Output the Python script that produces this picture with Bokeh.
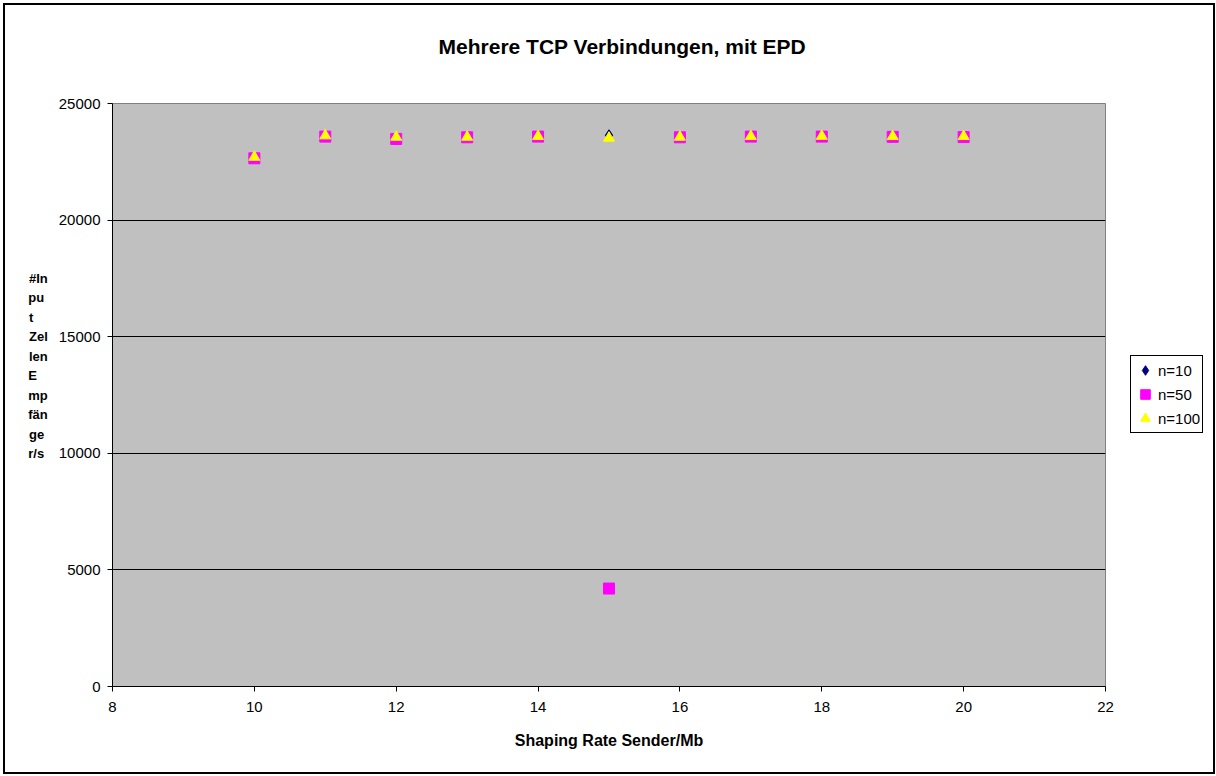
from bokeh.plotting import figure
from bokeh.models import Legend, LegendItem, Range1d, FixedTicker, Label
from bokeh.layouts import row, column
from bokeh.embed import file_html
from bokeh.resources import INLINE

x_rate = [10, 11, 12, 13, 14, 15, 16, 17, 18, 19, 20]
n10 = [22700, 23600, 23560, 23580, 23600, 23640, 23580, 23600, 23600, 23600, 23600]
n50 = [22650, 23580, 23480, 23550, 23580, 4200, 23550, 23580, 23580, 23570, 23560]
n100 = [22700, 23620, 23560, 23560, 23590, 23520, 23560, 23590, 23600, 23590, 23590]
series_labels = ["n=10", "n=50", "n=100"]
x_ticks = [8, 10, 12, 14, 16, 18, 20, 22]
y_ticks = [0, 5000, 10000, 15000, 20000, 25000]
title_text = "Mehrere TCP Verbindungen, mit EPD"

FONT = "Liberation Sans"

# ---- title strip ----
t = figure(width=1116, height=60, output_backend="svg", toolbar_location=None,
           x_range=Range1d(0, 1116), y_range=Range1d(0, 60), min_border=0)
t.axis.visible = False
t.grid.grid_line_color = None
t.outline_line_color = None
t.background_fill_color = "white"
t.border_fill_color = "white"
t.add_layout(Label(x=573, y=19, text=title_text, text_align="center", text_baseline="middle",
                   text_font=FONT, text_font_size="21px", text_font_style="bold",
                   text_color="black"))

# ---- main plot ----
p = figure(width=1116, height=707, output_backend="svg", toolbar_location=None,
           x_range=Range1d(8, 22), y_range=Range1d(0, 25000),
           min_border_left=107, min_border_right=16, min_border_top=38, min_border_bottom=86)
p.background_fill_color = "#C0C0C0"
p.border_fill_color = "white"
p.outline_line_color = "#808080"

p.xgrid.grid_line_color = None
p.ygrid.grid_line_color = "black"
p.ygrid.grid_line_width = 1

for ax in (p.xaxis[0], p.yaxis[0]):
    ax.axis_line_color = "black"
    ax.major_tick_line_color = "black"
    ax.major_tick_out = 5
    ax.major_tick_in = 0
    ax.minor_tick_line_color = None
    ax.major_label_text_font = FONT
    ax.major_label_text_font_size = "15px"
    ax.major_label_text_color = "black"
p.xaxis.ticker = FixedTicker(ticks=x_ticks)
p.yaxis.ticker = FixedTicker(ticks=y_ticks)
p.xaxis.major_label_standoff = 10
p.yaxis.major_label_standoff = 7

p.xaxis.axis_label = "Shaping Rate Sender/Mb"
p.xaxis.axis_label_text_font = FONT
p.xaxis.axis_label_text_font_size = "16px"
p.xaxis.axis_label_text_font_style = "bold"
p.xaxis.axis_label_text_color = "black"
p.xaxis.axis_label_standoff = 17

# lines padded with trailing spaces so the (right-aligned) block reads left-aligned
p.yaxis.axis_label = "#In\npu \nt    \nZel\nlen\nE   \nmp\nfän\nge \nr/s \n \n \n "
p.yaxis.axis_label_orientation = "horizontal"
p.yaxis.axis_label_text_font = FONT
p.yaxis.axis_label_text_font_size = "13px"
p.yaxis.axis_label_text_font_style = "bold"
p.yaxis.axis_label_text_color = "black"
p.yaxis.axis_label_text_line_height = 1.3
p.yaxis.axis_label_standoff = 8

p.scatter(x_rate, n10, marker="diamond", size=11, fill_color="#000080", line_color="#000080")
p.scatter(x_rate, n50, marker="square", size=11, fill_color="#FF00FF", line_color="#FF00FF")
p.scatter(x_rate, n100, marker="triangle", size=11, fill_color="#FFFF00", line_color="#FFFF00")

# ---- legend strip to the right of the plot area ----
q = figure(width=92, height=767, output_backend="svg", toolbar_location=None,
           x_range=Range1d(0, 1), y_range=Range1d(0, 1), min_border=0)
q.axis.visible = False
q.grid.grid_line_color = None
q.outline_line_color = None
q.background_fill_color = "white"
q.border_fill_color = "white"
# legend proxies: same series, lying outside this strip's visible range
g10 = q.scatter(x_rate, n10, marker="diamond", size=11, fill_color="#000080", line_color="#000080")
g50 = q.scatter(x_rate, n50, marker="square", size=11, fill_color="#FF00FF", line_color="#FF00FF")
g100 = q.scatter(x_rate, n100, marker="triangle", size=11, fill_color="#FFFF00", line_color="#FFFF00")

legend = Legend(items=[LegendItem(label=series_labels[0], renderers=[g10]),
                       LegendItem(label=series_labels[1], renderers=[g50]),
                       LegendItem(label=series_labels[2], renderers=[g100])],
                location=(9, 339), border_line_color="black", border_line_alpha=1,
                background_fill_color="white", background_fill_alpha=1,
                label_text_font=FONT, label_text_font_size="15px", label_text_color="black",
                glyph_width=24, glyph_height=24, label_standoff=1,
                spacing=0, padding=2, margin=0, label_height=16)
q.add_layout(legend)

layout = row(column(t, p), q)
layout.styles = {"border": "2px solid black", "margin-left": "3px", "margin-top": "3px"}

open("out.html", "w").write(file_html(layout, INLINE))
